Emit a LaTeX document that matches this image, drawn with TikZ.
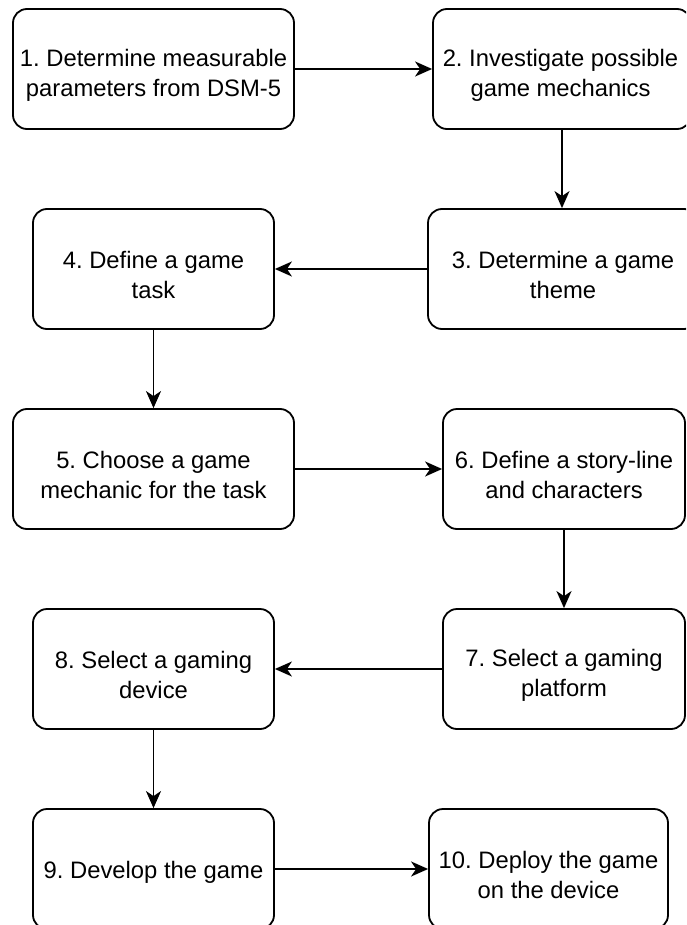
\documentclass[tikz,border=0pt]{standalone}
\usepackage{fontspec}
\setmainfont{Liberation Sans}
\usetikzlibrary{arrows.meta}
\tikzset{
  stepbox/.style={draw=black, line width=1.8pt, rounded corners=14pt, minimum height=120pt, inner sep=0pt},
  steptext/.style={align=center, inner sep=0pt, font=\fontsize{23.8}{30}\selectfont},
  flow/.style={line width=1.8pt, -{Stealth[length=17pt,width=15pt,inset=5pt]}}
}
\begin{document}
\frenchspacing
\begin{tikzpicture}[x=1pt,y=-1pt]
\useasboundingbox (0,0) rectangle (686,925);
\clip (0,0) rectangle (686,925);
\fill[white] (0,0) rectangle (686,925);
\node[stepbox, minimum width=281pt] (n1) at (153.5,69) {};
\node[stepbox, minimum width=258pt] (n2) at (562,69) {};
\node[stepbox, minimum width=270pt] (n3) at (563,269) {};
\node[stepbox, minimum width=241pt] (n4) at (153.5,269) {};
\node[stepbox, minimum width=281pt] (n5) at (153.5,469) {};
\node[stepbox, minimum width=242pt] (n6) at (564,469) {};
\node[stepbox, minimum width=242pt] (n7) at (564,669) {};
\node[stepbox, minimum width=241pt] (n8) at (153.5,669) {};
\node[stepbox, minimum width=241pt] (n9) at (153.5,869) {};
\node[stepbox, minimum width=239pt] (n10) at (548.5,869) {};
\node[steptext] (t1) at ([yshift=-6pt]n1.center) {1. Determine measurable\\parameters from DSM-5};
\node[steptext] (t2) at ([yshift=-6pt,xshift=-1.5pt]n2.center) {2. Investigate possible\\game mechanics};
\node[steptext] (t3) at ([yshift=-6pt]n3.center) {3. Determine a game\\theme};
\node[steptext] (t4) at ([yshift=-6pt]n4.center) {4. Define a game\\task};
\node[steptext] (t5) at ([yshift=-6pt]n5.center) {5. Choose a game\\mechanic for the task};
\node[steptext] (t6) at ([yshift=-6pt]n6.center) {6. Define a story-line\\and characters};
\node[steptext] (t7) at ([yshift=-6pt]n7.center) {7. Select a gaming\\platform};
\node[steptext] (t8) at ([yshift=-6pt]n8.center) {8. Select a gaming\\device};
\node[steptext] (t9) at ([yshift=-3pt]n9.center) {9. Develop the game};
\node[steptext] (t10) at ([yshift=-6pt]n10.center) {10. Deploy the game\\on the device};
\draw[flow] (n1.east) -- (n2.west);
\draw[flow] (n2.south) -- (n2.south |- n3.north);
\draw[flow] (n3.west) -- (n4.east);
\draw[flow] (n4.south) -- (n5.north);
\draw[flow] (n5.east) -- (n6.west);
\draw[flow] (n6.south) -- (n7.north);
\draw[flow] (n7.west) -- (n8.east);
\draw[flow] (n8.south) -- (n9.north);
\draw[flow] (n9.east) -- (n10.west);
\end{tikzpicture}
\end{document}
